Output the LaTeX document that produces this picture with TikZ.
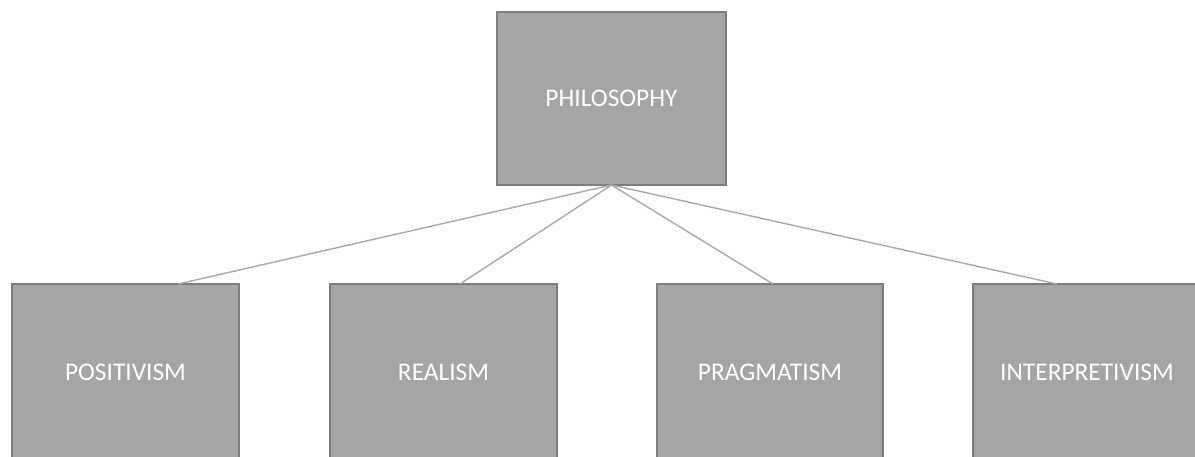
\documentclass[tikz,border=0pt]{standalone}
\usepackage{fontspec}
\setmainfont{Carlito}
\usetikzlibrary{positioning}
\definecolor{boxFill}{RGB}{165,165,165}
\definecolor{boxDraw}{RGB}{125,125,125}
\definecolor{lineColor}{RGB}{170,170,170}
\tikzset{
  branch/.style={draw=boxDraw,line width=1pt,fill=boxFill,text=white,
    inner sep=0pt,outer sep=0pt,font=\fontsize{12.7}{15}\selectfont},
  link/.style={draw=lineColor,line width=0.7pt}
}
\begin{document}
\begin{tikzpicture}[x=0.5pt,y=-0.5pt]
\path[use as bounding box,fill=white] (0,0) rectangle (1195,456);
\begin{scope}
\path[clip] (0,0) rectangle (1195,456);

% the top box
\node[branch,minimum width=114.5pt,minimum height=86.5pt] (phil) at (611.5,98.5) {PHILOSOPHY};

% the four boxes below
\node[branch,minimum width=113.5pt,minimum height=88pt] (posi) at (125.5,372) {POSITIVISM};
\node[branch,minimum width=113.5pt,minimum height=88pt] (real) at (443.5,372) {REALISM};
\node[branch,minimum width=113pt,minimum height=88pt] (prag) at (770,372) {PRAGMATISM};
\node[branch,minimum width=114pt,minimum height=88pt] (inte) at (1087,372) {INTERPRETIVISM};

% links
\draw[link] (phil.south) -- ([xshift=26.25pt]posi.north);
\draw[link] (phil.south) -- ([xshift=8.25pt]real.north);
\draw[link] (phil.south) -- ([xshift=1.5pt]prag.north);
\draw[link] (phil.south) -- ([xshift=-15pt]inte.north);
\end{scope}
\end{tikzpicture}
\end{document}
